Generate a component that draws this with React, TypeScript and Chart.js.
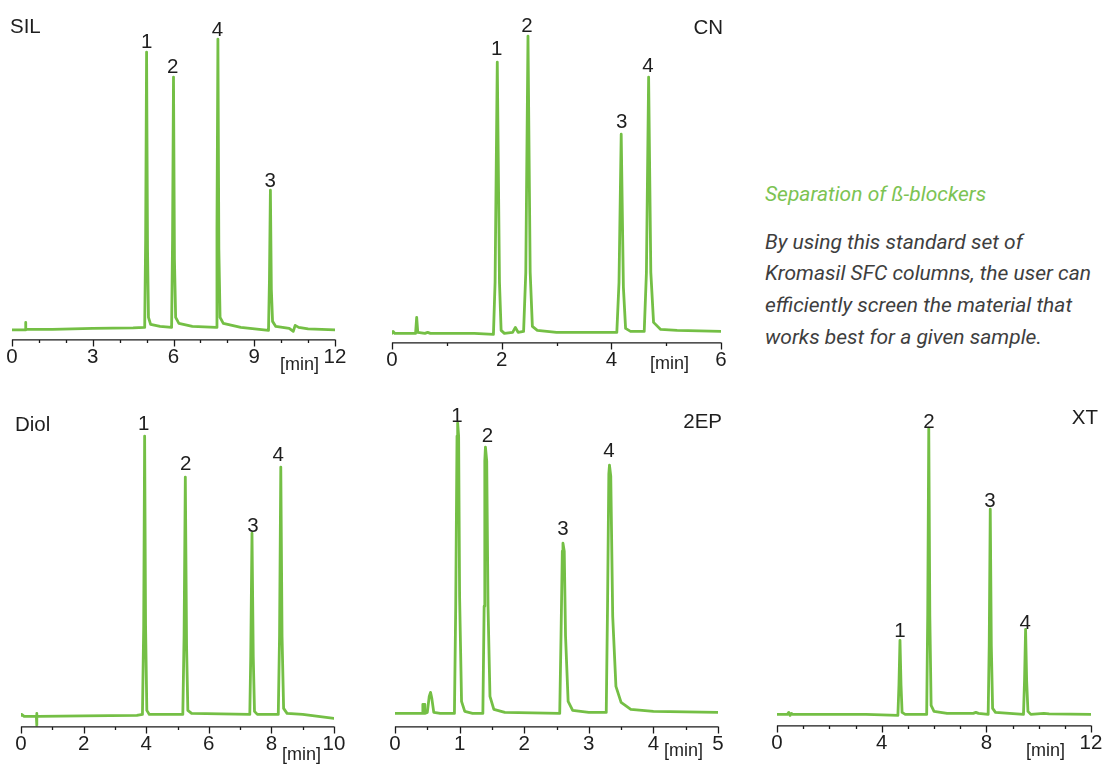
import { useEffect, useRef } from "react";
import { Chart, registerables } from "chart.js";

Chart.register(...registerables);

// ---------------- DATA ----------------
// SIL column
const silTime = [0, 0.49, 0.5, 0.52, 1.5, 3, 4.5, 4.93, 4.965, 5.0, 5.035, 5.07, 5.15, 5.5, 5.93, 5.965, 6.0, 6.035, 6.08, 6.2, 6.7, 7.58, 7.615, 7.65, 7.685, 7.73, 7.85, 8.5, 9.53, 9.565, 9.6, 9.635, 9.68, 9.8, 10.3, 10.45, 10.52, 10.65, 11, 12];
const silSignal = [9.5, 9.5, 17, 10, 10, 11, 11.5, 12, 100, 287, 90, 22, 15, 13, 12, 100, 262, 80, 22, 16, 13, 12, 110, 300, 90, 22, 16, 12, 9, 60, 149, 50, 18, 13, 11, 8, 14, 12, 10.5, 9.5];
const silPeakNames = ["1", "2", "4", "3"];
const silPeakTimes = [5.0, 5.97, 7.63, 9.59];
const silPeakLevels = [291, 266, 303, 152];

// CN column
const cnTime = [0, 0.02, 0.05, 0.43, 0.45, 0.47, 0.6, 0.65, 0.7, 1.5, 1.85, 1.88, 1.92, 1.96, 1.99, 2.05, 2.2, 2.25, 2.3, 2.4, 2.44, 2.48, 2.52, 2.56, 2.65, 3, 4.1, 4.14, 4.18, 4.22, 4.26, 4.35, 4.6, 4.64, 4.68, 4.72, 4.77, 4.9, 5.2, 6];
const cnSignal = [9, 11, 9, 9, 25, 10, 9, 10, 9, 9, 8, 60, 280, 60, 12, 9, 10, 15, 10, 11, 70, 306, 70, 16, 12, 10, 10, 60, 208, 55, 14, 11, 11, 70, 265, 70, 20, 13, 12, 11];
const cnPeakNames = ["1", "2", "3", "4"];
const cnPeakTimes = [1.91, 2.46, 4.19, 4.67];
const cnPeakLevels = [287, 310, 214, 270];

// Diol column
const diolTime = [0, 0.02, 0.1, 0.49, 0.5, 0.505, 0.51, 0.55, 2, 3.7, 3.88, 3.92, 3.95, 3.98, 4.02, 4.1, 5.17, 5.21, 5.25, 5.29, 5.33, 5.45, 7.31, 7.34, 7.38, 7.42, 7.46, 7.55, 8.22, 8.26, 8.3, 8.34, 8.39, 8.5, 9, 10];
const diolSignal = [11, 12, 10, 10, 13, 1, 10, 10, 10.5, 11, 12, 100, 290, 100, 16, 12, 12, 90, 249, 80, 16, 13, 12, 70, 193, 70, 15, 12, 12, 90, 259, 90, 18, 13, 12, 8];
const diolPeakNames = ["1", "2", "3", "4"];
const diolPeakTimes = [3.92, 5.26, 7.41, 8.22];
const diolPeakLevels = [296, 256, 194, 265];

// 2EP column
const epTime = [0, 0.43, 0.431, 0.46, 0.461, 0.5, 0.53, 0.55, 0.57, 0.6, 0.7, 0.92, 0.94, 0.96, 0.97, 0.985, 1.0, 1.03, 1.08, 1.2, 1.36, 1.38, 1.39, 1.4, 1.42, 1.44, 1.47, 1.53, 1.7, 2.55, 2.57, 2.59, 2.6, 2.62, 2.64, 2.68, 2.75, 3, 3.27, 3.29, 3.31, 3.32, 3.34, 3.37, 3.42, 3.5, 3.65, 4, 5];
const epSignal = [13, 13, 22, 22, 13, 14, 30, 34, 28, 14, 13, 13, 120, 290, 303, 290, 130, 25, 15, 13, 13, 120, 265, 279, 265, 120, 30, 17, 14, 13, 90, 175, 183, 175, 90, 25, 16, 14, 14, 120, 252, 261, 250, 110, 40, 24, 17, 15, 14];
const epPeakNames = ["1", "2", "3", "4"];
const epPeakTimes = [0.96, 1.43, 2.6, 3.31];
const epPeakLevels = [304, 284, 191, 269];

// XT column
const xtTime = [0, 0.4, 0.45, 0.5, 0.55, 0.6, 1.8, 3.4, 4.62, 4.66, 4.7, 4.74, 4.78, 4.9, 5.72, 5.76, 5.8, 5.84, 5.89, 6.0, 6.5, 7.5, 7.6, 7.7, 8.07, 8.11, 8.15, 8.19, 8.24, 8.35, 9.42, 9.46, 9.5, 9.54, 9.59, 9.7, 10.2, 10.4, 12];
const xtSignal = [11, 11, 13, 10, 12, 11, 11, 11, 10, 40, 85, 40, 13, 11, 11, 110, 297, 110, 20, 14, 12, 12, 13, 12, 11, 80, 216, 80, 17, 13, 11, 45, 96, 45, 14, 11, 12, 11.5, 11];
const xtPeakNames = ["1", "2", "3", "4"];
const xtPeakTimes = [4.7, 5.81, 8.14, 9.49];
const xtPeakLevels = [88, 297, 218, 96];

// axis ranges / ticks
const panelNames = ["SIL", "CN", "Diol", "2EP", "XT"];
const xMaxValues = [12, 6, 10, 5, 12];
const tickSteps = [1, 1, 1, 0.5, 1];
const labelSteps = [3, 2, 2, 1, 4];

const textTitle = "Separation of ß-blockers";
const textBody = [
  "By using this standard set of",
  "Kromasil SFC columns, the user can",
  "efficiently screen the material that",
  "works best for a given sample.",
];

// ---------------- STYLE / LAYOUT ----------------
const GREEN = "#74bf45";
const FONT = "'Liberation Sans', Arial, sans-serif";
const FS = 20.5;
const Y_MAX = 330;
const PAD_L = 20;
const PAD_R = 20;
const PAD_T = 5;
const AXIS_H = Math.round(FS * 1.2 + 12);

type PanelLayout = { x0: number; x1: number; axisY: number };
const layouts: PanelLayout[] = [
  { x0: 12, x1: 335, axisY: 339 },
  { x0: 392, x1: 721, axisY: 342 },
  { x0: 21, x1: 334, axisY: 726 },
  { x0: 395, x1: 718, axisY: 726 },
  { x0: 777, x1: 1091, axisY: 725 },
];

type TitlePos = { left?: number; right?: number; top: number };
const titlePos: TitlePos[] = [
  { left: 10, top: 15.5 },
  { right: 1105 - 723, top: 16.5 },
  { left: 15, top: 413.5 },
  { right: 1105 - 722, top: 410.5 },
  { right: 1105 - 1098, top: 406.5 },
];
const minPos = [
  { left: 280, top: 355 },
  { left: 650, top: 354 },
  { left: 282, top: 745 },
  { left: 664, top: 741 },
  { left: 1026, top: 741 },
];

const panels = [
  { time: silTime, signal: silSignal, names: silPeakNames, times: silPeakTimes, levels: silPeakLevels },
  { time: cnTime, signal: cnSignal, names: cnPeakNames, times: cnPeakTimes, levels: cnPeakLevels },
  { time: diolTime, signal: diolSignal, names: diolPeakNames, times: diolPeakTimes, levels: diolPeakLevels },
  { time: epTime, signal: epSignal, names: epPeakNames, times: epPeakTimes, levels: epPeakLevels },
  { time: xtTime, signal: xtSignal, names: xtPeakNames, times: xtPeakTimes, levels: xtPeakLevels },
];

function isMajor(v: number, step: number) {
  const r = v / step;
  return Math.abs(r - Math.round(r)) < 1e-6;
}

function Panel({ idx }: { idx: number }) {
  const ref = useRef<HTMLCanvasElement | null>(null);
  const L = layouts[idx];
  const width = L.x1 - L.x0 + PAD_L + PAD_R;
  const height = PAD_T + Y_MAX + AXIS_H;
  const left = L.x0 - PAD_L;
  const top = L.axisY - Y_MAX - PAD_T;

  useEffect(() => {
    const p = panels[idx];
    const labelStep = labelSteps[idx];
    const decor = {
      id: "decor" + idx,
      afterDraw(chart: any) {
        const ctx = chart.ctx;
        const xs = chart.scales.x;
        const ys = chart.scales.y;
        const y0 = chart.chartArea.bottom;
        ctx.save();
        ctx.strokeStyle = "#1a1a1a";
        ctx.lineWidth = 1.3;
        ctx.beginPath();
        ctx.moveTo(xs.left, y0 + 0.5);
        ctx.lineTo(xs.right, y0 + 0.5);
        xs.ticks.forEach((t: any) => {
          const px = Math.round(xs.getPixelForValue(t.value)) + 0.5;
          const len = isMajor(t.value, labelStep) ? 7 : 3.5;
          ctx.moveTo(px, y0);
          ctx.lineTo(px, y0 + len);
        });
        ctx.stroke();
        ctx.fillStyle = "#1e1e1e";
        ctx.font = FS + "px " + FONT;
        ctx.textAlign = "center";
        ctx.textBaseline = "alphabetic";
        p.names.forEach((n, i) => {
          ctx.fillText(n, xs.getPixelForValue(p.times[i]), ys.getPixelForValue(p.levels[i]));
        });
        ctx.restore();
      },
    };
    const chart = new Chart(ref.current as HTMLCanvasElement, {
      type: "line",
      data: {
        datasets: [
          {
            data: p.time.map((t, i) => ({ x: t, y: p.signal[i] })),
            borderColor: GREEN,
            borderWidth: 2.8,
            pointRadius: 0,
            tension: 0,
            fill: false,
            borderJoinStyle: "round",
            borderCapStyle: "round",
          } as any,
        ],
      },
      options: {
        animation: false,
        responsive: false,
        maintainAspectRatio: false,
        events: [],
        layout: { padding: { left: PAD_L, right: PAD_R, top: PAD_T, bottom: 0 } },
        plugins: { legend: { display: false }, tooltip: { enabled: false } },
        scales: {
          x: {
            type: "linear",
            min: 0,
            max: xMaxValues[idx],
            grid: { display: false, drawTicks: false },
            border: { display: false },
            ticks: {
              stepSize: tickSteps[idx],
              autoSkip: false,
              maxRotation: 0,
              minRotation: 0,
              padding: 6,
              color: "#1e1e1e",
              font: { family: FONT, size: FS },
              callback: (v: any) => (isMajor(Number(v), labelStep) ? String(v) : ""),
            },
          },
          y: { display: false, min: 0, max: Y_MAX },
        },
      },
      plugins: [decor],
    });
    return () => chart.destroy();
  }, [idx]);

  const tp = titlePos[idx];
  const mp = minPos[idx];
  return (
    <>
      <canvas
        ref={ref}
        width={width}
        height={height}
        style={{ position: "absolute", left, top, width, height }}
      />
      <div
        style={{
          position: "absolute",
          left: tp.left,
          right: tp.right,
          top: tp.top,
          fontFamily: FONT,
          fontSize: FS,
          lineHeight: FS + "px",
          color: "#1e1e1e",
          whiteSpace: "nowrap",
        }}
      >
        {panelNames[idx]}
      </div>
      <div
        style={{
          position: "absolute",
          left: mp.left,
          top: mp.top,
          fontFamily: FONT,
          fontSize: 18,
          lineHeight: "18px",
          color: "#1e1e1e",
          whiteSpace: "nowrap",
        }}
      >
        [min]
      </div>
    </>
  );
}

export default function App() {
  return (
    <div
      style={{
        position: "absolute",
        left: 0,
        top: 0,
        width: 1105,
        height: 768,
        overflow: "hidden",
        background: "#fff",
      }}
    >
      {panelNames.map((_, i) => (
        <Panel key={i} idx={i} />
      ))}
      <div
        style={{
          position: "absolute",
          left: 765,
          top: 178.5,
          fontFamily: "Roboto, 'Open Sans', sans-serif",
          fontStyle: "italic",
          fontSize: 21,
          lineHeight: "31.7px",
          color: "#7cc353",
          whiteSpace: "nowrap",
        }}
      >
        {textTitle}
      </div>
      <div
        style={{
          position: "absolute",
          left: 765,
          top: 226.5,
          fontFamily: "Roboto, 'Open Sans', sans-serif",
          fontStyle: "italic",
          fontSize: 21,
          lineHeight: "31.7px",
          color: "#3e3e3e",
          whiteSpace: "nowrap",
        }}
      >
        {textBody.map((l, i) => (
          <div key={i}>{l}</div>
        ))}
      </div>
    </div>
  );
}
